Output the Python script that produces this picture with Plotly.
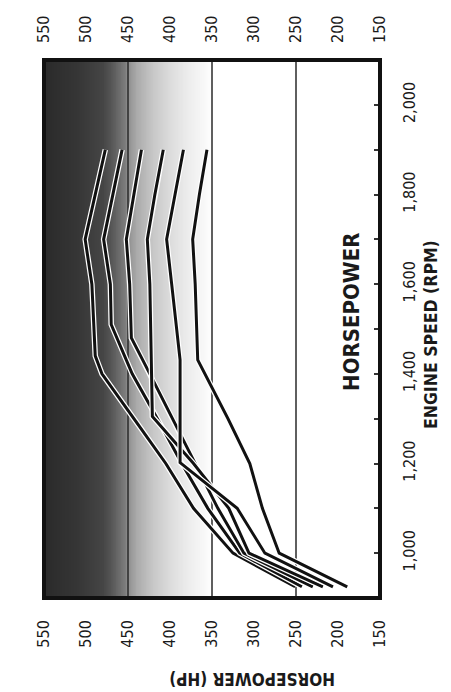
import numpy as np
import plotly.graph_objects as go

# ---------------- data ----------------
HP_TICKS = [550, 500, 450, 400, 350, 300, 250, 200, 150]
HP_GRID = [450, 350, 250]
RPM_TICKS = [1000, 1100, 1200, 1300, 1400, 1500, 1600, 1700, 1800, 1900, 2000]
RPM_LABELS = ["1,000", "", "1,200", "", "1,400", "", "1,600", "", "1,800", "", "2,000"]

L1_RPM = [925, 1000, 1100, 1200, 1300, 1400, 1440, 1600, 1700, 1800, 1900]
L1_HP = [251, 325, 372, 405, 443, 481, 489, 493, 501, 489, 477]

L2_RPM = [925, 1000, 1100, 1200, 1300, 1400, 1510, 1600, 1700, 1800, 1900]
L2_HP = [243, 317, 355, 386, 415, 445, 470, 471, 479, 468, 457]

L3_RPM = [925, 1000, 1100, 1200, 1300, 1400, 1480, 1600, 1700, 1800, 1900]
L3_HP = [230, 312, 343, 370, 396, 424, 446, 448, 452, 443, 434]

L4_RPM = [925, 1000, 1100, 1200, 1305, 1400, 1600, 1700, 1800, 1900]
L4_HP = [218, 306, 330, 372, 421, 422, 424, 427, 418, 408]

L5_RPM = [925, 1000, 1100, 1202, 1300, 1431, 1600, 1700, 1800, 1900]
L5_HP = [206, 287, 320, 388, 388, 388, 398, 404, 394, 384]

L6_RPM = [925, 1000, 1100, 1200, 1300, 1431, 1600, 1700, 1800, 1900]
L6_HP = [189, 270, 290, 305, 331, 367, 370, 373, 365, 356]

SERIES = [(L1_RPM, L1_HP), (L2_RPM, L2_HP), (L3_RPM, L3_HP),
          (L4_RPM, L4_HP), (L5_RPM, L5_HP), (L6_RPM, L6_HP)]

HP_RANGE = [550, 150]
RPM_RANGE = [900, 2100]

FONT = "DejaVu Sans Condensed, Liberation Sans Narrow, Roboto, sans-serif"

fig = go.Figure()

# shaded background (dark at high HP -> white)
bg_x = np.linspace(560, 140, 211)
bg_z = [list(bg_x), list(bg_x)]
fig.add_trace(go.Heatmap(
    x=bg_x, y=[880, 2120], z=bg_z, zmin=150, zmax=550, zsmooth="best",
    showscale=False, hoverinfo="skip",
    colorscale=[
        [0.0, "#ffffff"], [0.5, "#ffffff"], [0.525, "#f8f8f8"], [0.575, "#ececec"],
        [0.625, "#dcdcdc"], [0.675, "#c8c8c8"], [0.725, "#aaaaaa"], [0.75, "#909090"],
        [0.7625, "#7a7a7a"], [0.8, "#575757"], [0.825, "#454545"], [0.9, "#363636"],
        [1.0, "#2a2a2a"],
    ],
))

# grid lines
for g in HP_GRID:
    fig.add_trace(go.Scatter(x=[g, g], y=RPM_RANGE, mode="lines",
                             line=dict(color="#2a2a2a", width=1.5),
                             hoverinfo="skip", showlegend=False))

# curves: white halo then black line
for rpm, hp in SERIES:
    fig.add_trace(go.Scatter(x=hp, y=rpm, mode="lines",
                             line=dict(color="white", width=5.5),
                             hoverinfo="skip", showlegend=False))
    fig.add_trace(go.Scatter(x=hp, y=rpm, mode="lines",
                             line=dict(color="#111111", width=3),
                             showlegend=False))

# dummy trace for the top HP axis
fig.add_trace(go.Scatter(x=HP_TICKS, y=[None] * len(HP_TICKS), xaxis="x2",
                         mode="lines", showlegend=False, hoverinfo="skip"))

tickfont = dict(family=FONT, size=16, color="#1a1a1a")

fig.update_layout(
    width=443, height=684,
    margin=dict(l=36, r=71, t=52, b=94, autoexpand=False),
    paper_bgcolor="white", plot_bgcolor="white",
    showlegend=False,
    xaxis=dict(range=HP_RANGE, tickvals=HP_TICKS, ticktext=[str(v) for v in HP_TICKS],
               tickangle=-90, tickfont=tickfont, showgrid=False, zeroline=False,
               ticks="", ticklabelstandoff=18, showline=False, automargin=False),
    xaxis2=dict(range=HP_RANGE, overlaying="x", side="top", tickvals=HP_TICKS,
                ticktext=[str(v) for v in HP_TICKS], tickangle=-90, tickfont=tickfont,
                showgrid=False, zeroline=False, ticks="", ticklabelstandoff=16,
                showline=False, automargin=False),
    yaxis=dict(range=RPM_RANGE, side="right", tickvals=RPM_TICKS, ticktext=RPM_LABELS,
               tickangle=-90, tickfont=tickfont, showgrid=False, zeroline=False,
               ticks="inside", ticklen=6, tickwidth=1.5, tickcolor="#333333",
               ticklabelstandoff=18, showline=False, automargin=False),
    shapes=[dict(type="rect", xref="paper", yref="paper", x0=0, x1=1, y0=0, y1=1,
                 line=dict(color="#111111", width=4), layer="above")],
    annotations=[
        dict(text="<b>HORSEPOWER (HP)</b>", xref="paper", yref="paper",
             x=0.619, y=-0.1506, showarrow=False, textangle=180,
             font=dict(family=FONT, size=17, color="#1a1a1a"),
             xanchor="center", yanchor="middle"),
        dict(text="<b>ENGINE SPEED (RPM)</b>", xref="paper", yref="paper",
             x=1.152, y=0.489, showarrow=False, textangle=-90,
             font=dict(family=FONT, size=17.5, color="#1a1a1a"),
             xanchor="center", yanchor="middle"),
        dict(text="<b>HORSEPOWER</b>", xref="paper", yref="paper",
             x=0.917, y=0.532, showarrow=False, textangle=-90,
             font=dict(family=FONT, size=22, color="#1a1a1a"),
             xanchor="center", yanchor="middle"),
    ],
)

fig.write_html("out.html")
